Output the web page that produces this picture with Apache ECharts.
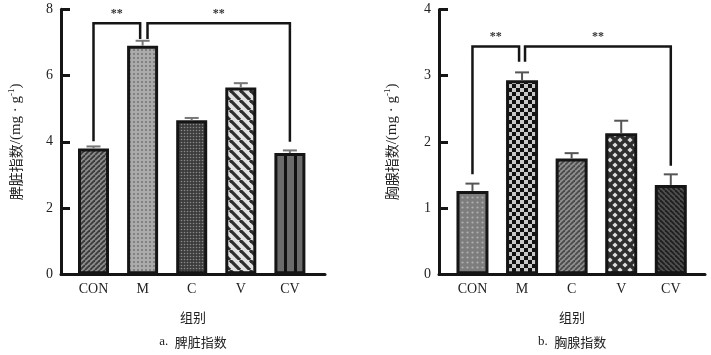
<!DOCTYPE html>
<html><head><meta charset="utf-8">
<script src="https://cdn.jsdelivr.net/npm/echarts@6/dist/echarts.min.js"></script>
<style>html,body{margin:0;padding:0;background:#fff}#c{width:711px;height:355px}</style>
</head><body><div id="c"></div>
<script>
// ---- data ----
const categories = ['CON', 'M', 'C', 'V', 'CV'];
const spleenMean = [3.80, 6.90, 4.65, 5.64, 3.66];
const spleenErr = [0.06, 0.15, 0.07, 0.13, 0.08];
const thymusMean = [1.26, 2.93, 1.75, 2.13, 1.35];
const thymusErr = [0.11, 0.12, 0.08, 0.19, 0.16];
const spleenTicks = [0, 8, 2];
const thymusTicks = [0, 4, 1];
// significance brackets: [x1, y1, x2, y2, top, label y]
const spleenSig = [[0, 4.02, 0.95, 7.10, 7.58, 7.87], [1.10, 7.10, 4, 4.00, 7.58, 7.87]];
const thymusSig = [[0, 1.51, 0.94, 3.21, 3.44, 3.58], [1.06, 3.21, 4, 1.64, 3.44, 3.58]];
const sigText = '**';

// ---- fill patterns (styles) ----
function pat(w, h, draw) {
  const c = document.createElement('canvas'); c.width = w; c.height = h;
  const ctx = c.getContext('2d'); draw(ctx, w, h);
  return { image: c, repeat: 'repeat' };
}
function slash(bg, fg, p, lw, back) {
  return pat(p, p, (x, w, h) => {
    x.fillStyle = bg; x.fillRect(0, 0, w, h);
    x.strokeStyle = fg; x.lineWidth = lw;
    for (let k = -1; k <= 1; k++) {
      x.beginPath();
      if (back) { x.moveTo(k * p, 0); x.lineTo(k * p + p, p); }
      else { x.moveTo(k * p, p); x.lineTo(k * p + p, 0); }
      x.stroke();
    }
  });
}
function dots(bg, fg, p, r) {
  return pat(p, p, (x, w, h) => {
    x.fillStyle = bg; x.fillRect(0, 0, w, h);
    x.fillStyle = fg; x.beginPath(); x.arc(p / 2, p / 2, r, 0, Math.PI * 2); x.fill();
  });
}
function checker(a, b, c) {
  return pat(2 * c, 2 * c, (x) => {
    x.fillStyle = a; x.fillRect(0, 0, 2 * c, 2 * c);
    x.fillStyle = b; x.fillRect(0, 0, c, c); x.fillRect(c, c, c, c);
  });
}
function diamonds(bg, fg, s, r) {
  return pat(s, s, (x) => {
    x.fillStyle = bg; x.fillRect(0, 0, s, s);
    x.fillStyle = fg;
    [[s / 2, s / 2], [0, 0], [s, 0], [0, s], [s, s]].forEach(([cx, cy]) => {
      x.beginPath(); x.moveTo(cx, cy - r); x.lineTo(cx + r, cy); x.lineTo(cx, cy + r); x.lineTo(cx - r, cy); x.closePath(); x.fill();
    });
  });
}
function vstripes(bg, fg, p, off, lw) {
  return pat(p, 2, (x) => {
    x.fillStyle = bg; x.fillRect(0, 0, p, 2);
    x.fillStyle = fg; x.fillRect(off, 0, lw, 2);
  });
}
const spleenFills = [
  slash('#8c8c8c', '#3a3a3a', 5, 1.8, false),
  dots('#ababab', '#6f6f6f', 4, 0.9),
  dots('#3c3c3c', '#8a8a8a', 3, 0.8),
  slash('#e2e2e2', '#2e2e2e', 10, 3.2, true),
  vstripes('#6b6b6b', '#111', 10, 4, 3)
];
const thymusFills = [
  dots('#7d7d7d', '#b0b0b0', 5, 1.1),
  checker('#111', '#c8c8c8', 4),
  slash('#8f8f8f', '#4a4a4a', 5, 1.8, false),
  diamonds('#2e2e2e', '#dedede', 10, 2.6),
  slash('#505050', '#1e1e1e', 5, 1.8, true)
];

const serif = 'Liberation Serif';
const cjk = 'Noto Sans CJK SC';
const ink = '#151515';

function barData(mean, fills) {
  return mean.map((v, i) => ({ value: [i, v], itemStyle: { color: fills[i] } }));
}
function errData(mean, err) { return mean.map((v, i) => [i, v, err[i]]); }

function errRender(color) {
  return function (params, api) {
    const x = api.value(0), m = api.value(1), e = api.value(2);
    const b = api.coord([x, m]), t = api.coord([x, m + e]);
    const st = { stroke: color, lineWidth: 2 };
    return { type: 'group', children: [
      { type: 'line', shape: { x1: b[0], y1: b[1], x2: t[0], y2: t[1] }, style: st },
      { type: 'line', shape: { x1: t[0] - 7, y1: t[1], x2: t[0] + 7, y2: t[1] }, style: st }
    ] };
  };
}
function sigRender(params, api) {
  const x1 = api.value(0), y1 = api.value(1), x2 = api.value(2), y2 = api.value(3), top = api.value(4), ly = api.value(5);
  const p1 = api.coord([x1, y1]), p2 = api.coord([x1, top]), p3 = api.coord([x2, top]), p4 = api.coord([x2, y2]);
  const lbl = api.coord([(x1 + x2) / 2, ly]);
  return { type: 'group', children: [
    { type: 'polyline', shape: { points: [p1, p2, p3, p4] }, style: { stroke: ink, lineWidth: 2.5, fill: null } },
    { type: 'text', x: lbl[0], y: lbl[1], style: { text: sigText, font: 'bold 12px ' + serif, fill: '#333', align: 'center', verticalAlign: 'middle' } }
  ] };
}

function xAxis(gi, min, max, caption) {
  return {
    type: 'value', gridIndex: gi, min: min, max: max,
    axisLine: { show: true, onZero: false, lineStyle: { color: ink, width: 3 } },
    axisTick: { show: false }, splitLine: { show: false },
    axisLabel: { customValues: [0, 1, 2, 3, 4], formatter: v => categories[Math.round(v)] || '', fontFamily: serif, fontSize: 14, color: '#222', margin: 8 },
    name: '{n|组别}\n{s|' + caption[0] + '}{c|' + caption[1] + '}', nameLocation: 'middle', nameGap: 30,
    nameTextStyle: { rich: {
      n: { fontFamily: cjk, fontSize: 13, color: '#222', lineHeight: 25 },
      s: { fontFamily: serif, fontSize: 13, color: '#222', lineHeight: 25 },
      c: { fontFamily: cjk, fontSize: 13, color: '#222', lineHeight: 25 }
    } }
  };
}
function yAxis(gi, ticks, title, gap) {
  return {
    type: 'value', gridIndex: gi, min: ticks[0], max: ticks[1], interval: ticks[2],
    axisLine: { show: true, onZero: false, lineStyle: { color: ink, width: 3 } },
    axisTick: { show: true, inside: true, length: 9, lineStyle: { color: ink, width: 3 } },
    splitLine: { show: false },
    axisLabel: { fontFamily: serif, fontSize: 14, color: '#222', margin: 8 },
    name: '{c|' + title + '}{r|/(mg · g}{u|-1}{r|)}', nameLocation: 'middle', nameRotate: 90, nameGap: gap,
    nameTextStyle: { rich: {
      c: { fontFamily: cjk, fontSize: 14, color: '#222' },
      r: { fontFamily: serif, fontSize: 15, color: '#222' },
      u: { fontFamily: serif, fontSize: 9, color: '#222', padding: [0, 0, 9, 0] }
    } }
  };
}

const option = {
  animation: false,
  backgroundColor: '#fff',
  grid: [
    { left: 61, top: 9.3, width: 264, height: 265 },
    { left: 439, top: 9.5, width: 266, height: 264.8 }
  ],
  xAxis: [xAxis(0, -0.662, 4.715, ['a.  ', '脾脏指数']), xAxis(1, -0.675, 4.69, ['b.  ', '胸腺指数'])],
  yAxis: [yAxis(0, spleenTicks, '脾脏指数', 36), yAxis(1, thymusTicks, '胸腺指数', 38)],
  series: [
    { type: 'bar', xAxisIndex: 0, yAxisIndex: 0, barWidth: 31, data: barData(spleenMean, spleenFills), itemStyle: { borderColor: ink, borderWidth: 3 }, z: 2 },
    { type: 'custom', xAxisIndex: 0, yAxisIndex: 0, data: errData(spleenMean, spleenErr), renderItem: errRender('#777'), z: 3 },
    { type: 'custom', xAxisIndex: 0, yAxisIndex: 0, data: spleenSig, renderItem: sigRender, z: 4 },
    { type: 'bar', xAxisIndex: 1, yAxisIndex: 1, barWidth: 32, data: barData(thymusMean, thymusFills), itemStyle: { borderColor: ink, borderWidth: 3 }, z: 2 },
    { type: 'custom', xAxisIndex: 1, yAxisIndex: 1, data: errData(thymusMean, thymusErr), renderItem: errRender('#555'), z: 3 },
    { type: 'custom', xAxisIndex: 1, yAxisIndex: 1, data: thymusSig, renderItem: sigRender, z: 4 }
  ]
};
const chart = echarts.init(document.getElementById('c'), null, { renderer: 'canvas' });
chart.setOption(option);
</script></body></html>
